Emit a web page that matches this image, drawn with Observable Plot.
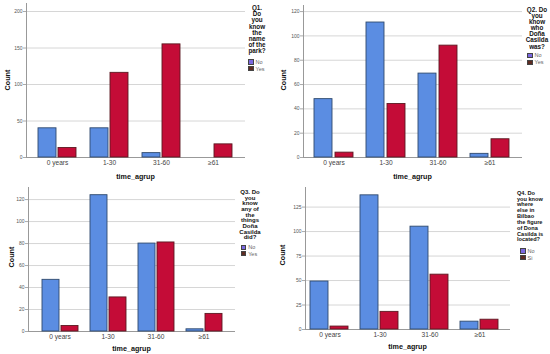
<!DOCTYPE html>
<html><head><meta charset="utf-8">
<script src="https://cdn.jsdelivr.net/npm/d3@7"></script>
<script src="https://cdn.jsdelivr.net/npm/@observablehq/plot@0.6"></script>
<style>
body{margin:0;background:#fff;font-family:"Liberation Sans",Arial,sans-serif}
#root{position:relative;width:550px;height:354px;overflow:hidden;background:#fff}
.panel{position:absolute;width:275px;height:177px}
.panel svg{position:absolute;left:0;top:0}
.ttl{position:absolute;font-weight:bold;color:#111;white-space:nowrap}
.item{position:absolute;display:flex;align-items:center;font-size:5.5px;color:#666;white-space:nowrap}
.sw{width:5.5px;height:5.5px;margin-right:2px;box-sizing:border-box;border:0.4px solid #444}
.axl{position:absolute;font-weight:bold;font-size:7.2px;color:#111;white-space:nowrap;transform:translate(-50%,-50%)}
.axl.rot{transform:translate(-50%,-50%) rotate(-90deg)}
</style></head><body><div id="root"></div><script>
// ---- data ----
const categories = ["0 years", "1-30", "31-60", "≥61"];
const q1No  = [40, 40, 6, 0];
const q1Yes = [13, 116, 155, 18];
const q2No  = [48, 111, 69, 3];
const q2Yes = [4, 44, 92, 15];
const q3No  = [47, 124, 80, 2];
const q3Yes = [5, 31, 81, 16];
const q4No  = [49, 137, 105, 8];
const q4Yes = [3, 18, 56, 10];
const q1Ticks = [0, 50, 100, 150, 200];
const q2Ticks = [0, 20, 40, 60, 80, 100, 120];
const q3Ticks = [0, 20, 40, 60, 80, 100, 120];
const q4Ticks = [0, 25, 50, 75, 100, 125];
const q1Answers = ["No", "Yes"];
const q2Answers = ["No", "Yes"];
const q3Answers = ["No", "Yes"];
const q4Answers = ["No", "Si"];
const q1Title = ["Q1.", "Do", "you", "know", "the", "name", "of the", "park?"];
const q2Title = ["Q2. Do", "you", "know", "who", "Doña", "Casilda", "was?"];
const q3Title = ["Q3. Do", "you", "know", "any of", "the", "things", "Doña", "Casilda", "did?"];
const q4Title = ["Q4. Do", "you know", "where", "else in", "Bilbao", "the figure", "of Dona", "Casilda is", "located?"];
const xLabel = "time_agrup";
const yLabel = "Count";

// ---- styles ----
const noFill = "#5b8de2", noStroke = "#2f4a6e";
const yesFill = "#c40c37", yesStroke = "#5c1a22";
const noSwatch = "#7a68e0", yesSwatch = "#5e2c22";

const panels = [
  {left:0, top:0, w:247, mL:26, mR:2, mT:3, mB:20, yTop:211, no:q1No, yes:q1Yes, ticks:q1Ticks, ans:q1Answers, title:q1Title,
   pi:0.23, po:0.205, al:0.5, pix:0.08, countX:7, countY:80, labY:175.5,
   tX:257, tY:8, lh:6.2, fs:6.3, center:true, swX:248, noY:62, yesY:68.7},
  {left:275, top:0, w:249, mL:28, mR:2, mT:5, mB:20, yTop:125, no:q2No, yes:q2Yes, ticks:q2Ticks, ans:q2Answers, title:q2Title,
   pi:0.22, po:0.2, al:0.44, pix:0.12, countX:7.5, countY:80, labY:176,
   tX:262, tY:10, lh:6.1, fs:6.3, center:true, swX:252, noY:55.3, yesY:62.3},
  {left:0, top:177, w:237, mL:28, mR:2, mT:10, mB:23, yTop:131, no:q3No, yes:q3Yes, ticks:q3Ticks, ans:q3Answers, title:q3Title,
   pi:0.22, po:0.227, al:0.51, pix:0.115, countX:11, countY:80, labY:170.5,
   tX:250, tY:15.7, lh:5.7, fs:6, center:true, swX:240.7, noY:70.3, yesY:76.7},
  {left:275, top:177, w:237, mL:30, mR:2, mT:10, mB:25, yTop:145, no:q4No, yes:q4Yes, ticks:q4Ticks, ans:q4Answers, title:q4Title,
   pi:0.23, po:0.153, al:0.33, pix:0.085, countX:6.5, countY:78, labY:168.5,
   tX:242, tY:16.7, lh:5.83, fs:5.6, center:false, swX:245, noY:74, yesY:80.7}
];

const root = document.getElementById("root");
const H = 177;

for (const p of panels) {
  const div = document.createElement("div");
  div.className = "panel";
  div.style.left = p.left + "px";
  div.style.top = p.top + "px";
  root.appendChild(div);

  const rowsNo = categories.map((c, i) => ({cat: c, ans: p.ans[0], v: p.no[i]}));
  const rowsYes = categories.map((c, i) => ({cat: c, ans: p.ans[1], v: p.yes[i]}));

  const common = {
    width: p.w, height: H,
    marginLeft: p.mL, marginRight: p.mR, marginTop: p.mT, marginBottom: p.mB
  };

  const bg = Plot.plot({
    ...common,
    style: {background: "transparent", fontFamily: "Liberation Sans, Arial, sans-serif", fontSize: "5px", color: "#555", overflow: "visible"},
    x: {domain: [0, 1], axis: null},
    y: {domain: [0, p.yTop], axis: null},
    marks: [
      Plot.gridY(p.ticks, {stroke: "#d6d6d6", strokeOpacity: 1}),
      Plot.axisY(p.ticks, {tickSize: 3, tickPadding: 1, label: null, stroke: "#aaa"}),
      Plot.ruleY([0], {stroke: "#999"}),
      Plot.ruleX([0], {stroke: "#999"})
    ]
  });
  div.appendChild(bg);

  const fg = Plot.plot({
    ...common,
    style: {background: "transparent", fontFamily: "Liberation Sans, Arial, sans-serif", fontSize: "6.6px", color: "#444", overflow: "visible"},
    facet: {marginTop: 0, marginRight: 0, marginBottom: 0, marginLeft: 0},
    fx: {domain: categories, paddingInner: p.pi, paddingOuter: p.po, align: p.al, axis: "bottom", tickSize: 0, tickPadding: 2.5, label: null},
    x: {domain: p.ans, paddingInner: p.pix, paddingOuter: 0, axis: null},
    y: {domain: [0, p.yTop], axis: null},
    marks: [
      Plot.barY(rowsNo, {fx: "cat", x: "ans", y: "v", fill: noFill, stroke: noStroke, strokeWidth: 0.9}),
      Plot.barY(rowsYes, {fx: "cat", x: "ans", y: "v", fill: yesFill, stroke: yesStroke, strokeWidth: 0.9})
    ]
  });
  div.appendChild(fg);

  // axis titles
  const cl = document.createElement("div");
  cl.className = "axl rot";
  cl.textContent = yLabel;
  cl.style.left = p.countX + "px";
  cl.style.top = p.countY + "px";
  div.appendChild(cl);

  const xl = document.createElement("div");
  xl.className = "axl";
  xl.textContent = xLabel;
  xl.style.left = ((p.mL + p.w - p.mR) / 2) + "px";
  xl.style.top = p.labY + "px";
  div.appendChild(xl);

  // legend title
  const t = document.createElement("div");
  t.className = "ttl";
  t.style.fontSize = p.fs + "px";
  t.style.lineHeight = p.lh + "px";
  t.style.top = (p.tY - p.lh / 2) + "px";
  if (p.center) {
    t.style.left = (p.tX - 20) + "px";
    t.style.width = "40px";
    t.style.textAlign = "center";
  } else {
    t.style.left = p.tX + "px";
  }
  for (const line of p.title) {
    const l = document.createElement("div");
    l.textContent = line;
    t.appendChild(l);
  }
  div.appendChild(t);

  // legend items
  [[p.ans[0], noSwatch, p.noY], [p.ans[1], yesSwatch, p.yesY]].forEach(([lab, col, cy]) => {
    const it = document.createElement("div");
    it.className = "item";
    it.style.left = p.swX + "px";
    it.style.top = (cy - 3.5) + "px";
    it.style.height = "7px";
    const sw = document.createElement("span");
    sw.className = "sw";
    sw.style.background = col;
    it.appendChild(sw);
    const tx = document.createElement("span");
    tx.textContent = lab;
    it.appendChild(tx);
    div.appendChild(it);
  });
}
</script></body></html>
